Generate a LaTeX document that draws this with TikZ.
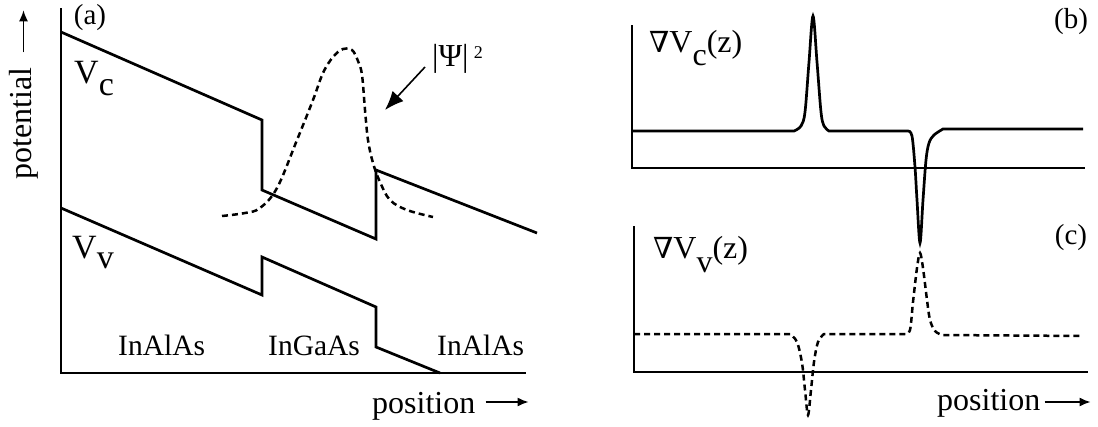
\documentclass[tikz,border=0pt]{standalone}
\usepackage{fontspec}
\setmainfont{Liberation Serif}
\newfontfamily\nablafont{DejaVu Serif}
\usetikzlibrary{arrows.meta}
\tikzset{
  band/.style={line width=2.7pt, line join=miter},
  wave/.style={line width=2.5pt, dash pattern=on 6pt off 4pt},
  axis/.style={line width=2.7pt},
  lbl/.style={font=\fontsize{32}{38}\selectfont, inner sep=0pt},
  vlbl/.style={font=\fontsize{34}{40}\selectfont, inner sep=0pt, anchor=base west},
  matlbl/.style={font=\fontsize{29.5}{35}\selectfont, inner sep=0pt, anchor=base west},
  tag/.style={font=\fontsize{29}{34}\selectfont, inner sep=0pt},
  axarrow/.style={-{Latex[length=11pt,width=9pt]}, line width=1.4pt},
  psiarrow/.style={-{Latex[length=19pt,width=15pt]}, line width=1.6pt}
}
\newcommand{\nab}{{\nablafont\fontsize{29}{34}\selectfont ∇}}
\begin{document}
\begin{tikzpicture}[x=1pt, y=-1pt]
  \useasboundingbox (0,0) rectangle (1098,426);

  % (a) band profile
  \draw[axis] (61,8) -- (61,373) -- (526,373);
  \draw[band] (61,32) -- (262,120) -- (262,190) -- (376,239) -- (376,170) -- (537,233);
  \draw[band] (61,208) -- (262,295) -- (262,257) -- (376,307) -- (376,347) -- (440,373);
  \draw[wave] plot[smooth, tension=0.6] coordinates {(222,216) (245,213) (260,208) (277,188)
    (297,140) (313,100) (323,73) (333,57) (343,49) (352,50) (358,61) (362,75) (365,110)
    (368,140) (373,163) (380,182) (390,200) (407,210) (433,217)};

  \node[tag] (tagA) at (90,17.5) {(a)};
  \node[lbl, rotate=90] (potlbl) at (23.5,123.5) {potential};
  \draw[axarrow] (potlbl.east) ++(0,-15) -- ++(0,-42);
  \node[lbl, anchor=base west] (posa) at (372,413) {position};
  \draw[axarrow] (posa.base east) ++(10,-11) -- ++(43,0);

  \node[vlbl] (vclbl) at (74,83) {V\raisebox{-12pt}{c}};
  \node[vlbl] (vvlbl) at (72,258) {V\raisebox{-10pt}{v}};

  \node[matlbl] (matL) at (118,355) {InAlAs};
  \node[matlbl] (matM) at (268,355) {InGaAs};
  \node[matlbl] (matR) at (437,355) {InAlAs};

  \node[lbl, anchor=base west] (psilbl) at (432,66) {|Ψ|\,\raisebox{8pt}{\fontsize{18}{20}\selectfont 2}};
  \coordinate (psitip) at (385,110);
  \draw[psiarrow] (psilbl.base west) ++(-7,1) -- (psitip);

  % (b) conduction band gradient
  \draw[axis] (632,25) -- (632,168) -- (1085,168);
  \draw[band] (632,131) -- plot[smooth, tension=0.55] coordinates {(794,131) (801,126) (805,112)
    (809,62) (813,16) (817,62) (821,112) (824,126) (829,131)}
    -- plot[smooth, tension=0.55] coordinates {(908,131) (912,136) (915,167) (917,200) (920,243)
    (923,200) (926,160) (929,143) (934,135) (943,129)} -- (1083,129);
  \node[lbl, anchor=base west] (gradc) at (649,52) {\nab V\raisebox{-13pt}{c}(z)};
  \node[tag] (tagB) at (1071,22) {(b)};

  % (c) valence band gradient
  \draw[axis] (634,226) -- (634,372) -- (1088,372);
  \draw[wave] (634,334) -- plot[smooth, tension=0.55] coordinates {(790,334) (797,342) (802,363)
    (805,390) (808,415) (811,390) (814,362) (818,342) (824,334)}
    -- plot[smooth, tension=0.55] coordinates {(905,334) (910,330) (913,302) (917,268) (920,253)
    (923,268) (927,300) (930,320) (935,331) (942,335)} -- (1083,336);
  \node[lbl, anchor=base west] (gradv) at (653,258) {\nab V\raisebox{-14pt}{v}(z)};
  \node[tag] (tagC) at (1071,237.5) {(c)};
  \node[lbl, anchor=base west] (posc) at (937,410) {position};
  \draw[axarrow] (posc.base east) ++(4,-8) -- ++(46,0);
\end{tikzpicture}
\end{document}
